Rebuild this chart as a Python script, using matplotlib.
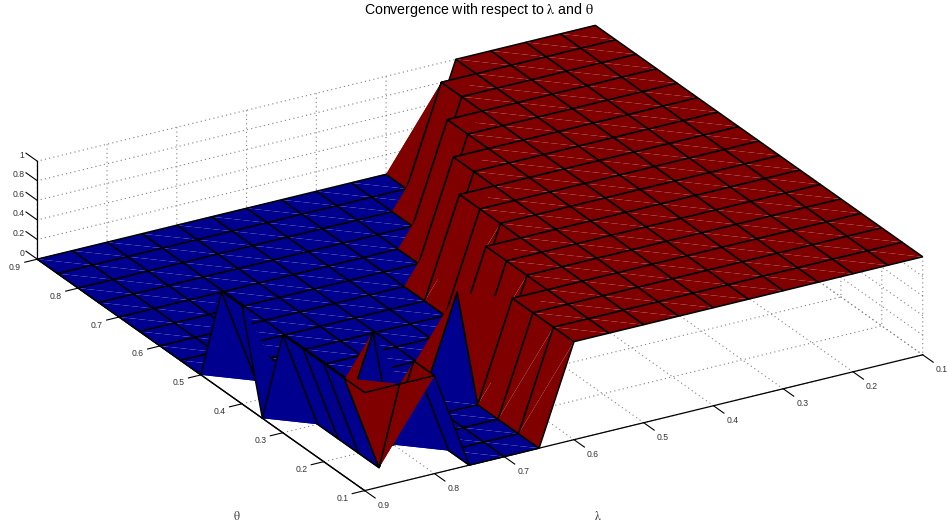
import numpy as np
import matplotlib
matplotlib.use("Agg")
import matplotlib.pyplot as plt
from mpl_toolkits.mplot3d import proj3d
from mpl_toolkits.mplot3d.art3d import Poly3DCollection

plt.rcParams['font.family'] = ['Liberation Sans', 'DejaVu Sans']
plt.rcParams['mathtext.fontset'] = 'stix'

theta_values = [0.10, 0.15, 0.20, 0.25, 0.30, 0.35, 0.40, 0.45, 0.50,
                0.55, 0.60, 0.65, 0.70, 0.75, 0.80, 0.85, 0.90]
lambda_values = [0.10, 0.15, 0.20, 0.25, 0.30, 0.35, 0.40, 0.45, 0.50,
                 0.55, 0.60, 0.65, 0.70, 0.75, 0.80, 0.85, 0.90]
# converged[row for lambda][column for theta]
converged = [
    [1, 1, 1, 1, 1, 1, 1, 1, 1, 1, 1, 1, 1, 1, 1, 1, 1],  # 0.10
    [1, 1, 1, 1, 1, 1, 1, 1, 1, 1, 1, 1, 1, 1, 1, 1, 1],  # 0.15
    [1, 1, 1, 1, 1, 1, 1, 1, 1, 1, 1, 1, 1, 1, 1, 1, 1],  # 0.20
    [1, 1, 1, 1, 1, 1, 1, 1, 1, 1, 1, 1, 1, 1, 1, 1, 1],  # 0.25
    [1, 1, 1, 1, 1, 1, 1, 1, 1, 1, 1, 1, 1, 1, 1, 1, 1],  # 0.30
    [1, 1, 1, 1, 1, 1, 1, 1, 1, 1, 1, 1, 1, 1, 1, 1, 0],  # 0.35
    [1, 1, 1, 1, 1, 1, 1, 1, 1, 1, 1, 1, 1, 1, 0, 0, 0],  # 0.40
    [1, 1, 1, 1, 1, 1, 1, 1, 1, 1, 1, 1, 0, 0, 0, 0, 0],  # 0.45
    [1, 1, 1, 1, 1, 1, 1, 1, 1, 1, 0, 0, 0, 0, 0, 0, 0],  # 0.50
    [1, 1, 1, 1, 1, 1, 1, 0, 0, 0, 0, 0, 0, 0, 0, 0, 0],  # 0.55
    [1, 1, 1, 1, 0, 0, 0, 0, 0, 0, 0, 0, 0, 0, 0, 0, 0],  # 0.60
    [0, 0, 0, 0, 1, 0, 0, 0, 0, 0, 0, 0, 0, 0, 0, 0, 0],  # 0.65
    [0, 0, 0, 0, 0, 0, 0, 0, 0, 0, 0, 0, 0, 0, 0, 0, 0],  # 0.70
    [0, 0, 0, 0, 0, 0, 0, 0, 0, 0, 0, 0, 0, 0, 0, 0, 0],  # 0.75
    [1, 1, 0, 1, 0, 0, 0, 0, 0, 0, 0, 0, 0, 0, 0, 0, 0],  # 0.80
    [1, 0, 0, 0, 0, 0, 0, 0, 0, 0, 0, 0, 0, 0, 0, 0, 0],  # 0.85
    [1, 1, 1, 1, 1, 0, 1, 1, 0, 0, 0, 0, 0, 0, 0, 0, 0],  # 0.90
]
axis_ticks = [0.1, 0.2, 0.3, 0.4, 0.5, 0.6, 0.7, 0.8, 0.9]
axis_labels = ['0.1', '0.2', '0.3', '0.4', '0.5', '0.6', '0.7', '0.8', '0.9']
z_ticks = [0, 0.2, 0.4, 0.6, 0.8, 1]
z_labels = ['0', '0.2', '0.4', '0.6', '0.8', '1']

BLUE = '#00008f'
RED = '#800000'
TXT = '#333333'

T, L = np.meshgrid(theta_values, lambda_values)
Z = np.array(converged, dtype=float)

fig = plt.figure(figsize=(9.48, 5.31), dpi=100)
S = 1000
ax = fig.add_axes([-33.5 / 948, -240.5 / 531, S / 948, S / 531],
                  projection='3d', proj_type='ortho')
ax.patch.set_alpha(0)
ax.set_box_aspect((1, 1, 0.1665), zoom=0.8944)
ax.view_init(elev=24.5, azim=149.6)
ax.set_xlim(0.1, 0.9, view_margin=0)
ax.set_ylim(0.1, 0.9, view_margin=0)
ax.set_zlim(0, 1, view_margin=0)

# each cell is two flat triangles, stroked on the cell outline only (open paths);
# its colour comes from the corner with the lowest lambda and theta
P = np.stack([T, L, Z], axis=-1)
tris, tri_colors = [], []
for r in range(Z.shape[0] - 1):
    for c in range(Z.shape[1] - 1):
        a, b, cc, d = P[r, c], P[r + 1, c], P[r + 1, c + 1], P[r, c + 1]
        col = RED if Z[r, c] > 0.5 else BLUE
        tris += [[a, b, cc], [cc, d, a]]
        tri_colors += [col, col]
surf = Poly3DCollection(tris, closed=False, facecolors=tri_colors, edgecolors='black',
                        linewidths=1.1, antialiased=True)
ax.add_collection3d(surf)

ax.set_xticks(axis_ticks)
ax.set_yticks(axis_ticks)
ax.set_zticks(z_ticks)
ax.xaxis.set_ticklabels([''] * len(axis_ticks))
ax.yaxis.set_ticklabels([''] * len(axis_ticks))
ax.zaxis.set_ticklabels([''] * len(z_ticks))
ax.tick_params(width=0.9, color='black')

for axis in (ax.xaxis, ax.yaxis, ax.zaxis):
    axis.set_pane_color((1, 1, 1, 0))
    axis.pane.set_edgecolor('none')
    axis.line.set_color('black')
    axis.line.set_linewidth(0.9)
    axis._axinfo['grid'].update(color='#808080', linestyle=(0, (1, 2.9)), linewidth=0.8)
ax.xaxis._axinfo['tick'].update(inward_factor=0.28, outward_factor=0.0)
ax.yaxis._axinfo['tick'].update(inward_factor=0.40, outward_factor=0.0)
ax.zaxis._axinfo['tick'].update(inward_factor=0.0, outward_factor=0.43)
ax.zaxis._axinfo['juggled'] = (1, 0, 2)
ax.plot([theta_values[-1]] * 2, [lambda_values[-1]] * 2, [z_ticks[0], z_ticks[-1]],
        color='black', lw=0.9)

M = ax.get_proj()


def tick_text(x, y, z, s, dx, dy, ha='center'):
    px, py, _ = proj3d.proj_transform(x, y, z, M)
    ax.annotate(s, (px, py), xytext=(dx * 0.72, dy * 0.72), textcoords='offset points',
                ha=ha, va='center', fontsize=6.2, color=TXT, annotation_clip=False)


for t, s in zip(axis_ticks, axis_labels):
    tick_text(t, lambda_values[-1], 0, s, -22.5, -8)
    tick_text(theta_values[0], t, 0, s, 19, -14.5)
for t, s in zip(z_ticks, z_labels):
    tick_text(theta_values[-1], lambda_values[-1], t, s, -13, 6, ha='right')

fig.text(479 / 948, 1 - 10 / 531, r'Convergence with respect to $\mathrm{\lambda}$ and $\mathrm{\theta}$',
         ha='center', va='center', fontsize=10.2, color='black')
fig.text(237 / 948, 1 - 516 / 531, r'$\mathrm{\theta}$', ha='center', va='center', fontsize=8.5, color=TXT)
fig.text(598 / 948, 1 - 516 / 531, r'$\mathrm{\lambda}$', ha='center', va='center', fontsize=8.5, color=TXT)

fig.savefig('out.png', dpi=100)
